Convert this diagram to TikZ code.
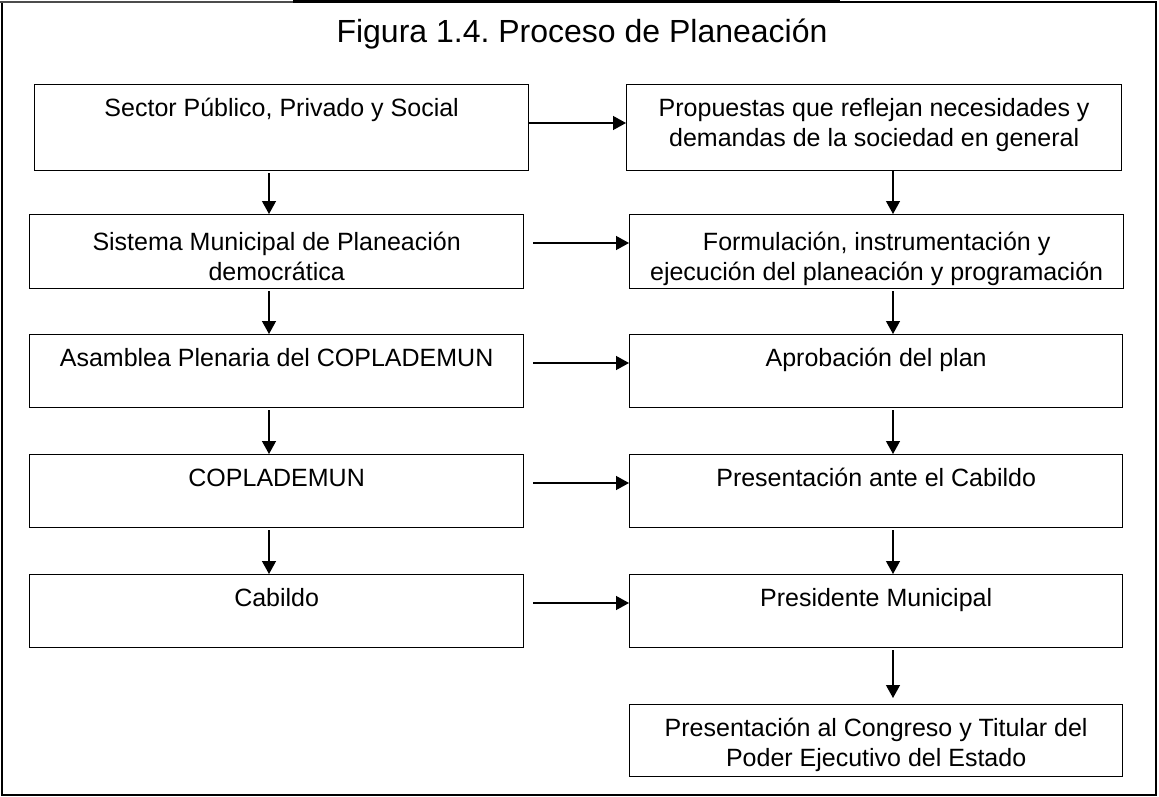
\documentclass[tikz,border=0pt]{standalone}
\usepackage{fontspec}
\setmainfont{Liberation Sans}
\usetikzlibrary{arrows.meta}
\begin{document}
\frenchspacing
\begin{tikzpicture}[x=1pt,y=-1pt,
  box/.style={draw, line width=1.3pt, rectangle, inner sep=0pt, anchor=north west},
  txt/.style={font=\fontsize{25}{30}\selectfont, align=center, anchor=north, inner sep=0pt},
  ttl/.style={font=\fontsize{32}{38}\selectfont, anchor=base, inner sep=0pt},
  arr/.style={line width=1.3pt, -{Triangle[length=13pt,width=14pt]}},
  frameline/.style={line width=2.5pt},
]
\useasboundingbox (0,0) rectangle (1159,797);
% outer frame
\coordinate (f1) at (2,2);
\coordinate (f2) at (2,795);
\coordinate (f3) at (1156,795);
\coordinate (f4) at (1156,2);
\coordinate (fa) at (293,2);
\coordinate (fb) at (840,2);
\draw[frameline, line join=miter] (f1) -- (f2) -- (f3) -- (f4);
\draw[line width=1.4pt, black!70] ([xshift=-2pt]f1) -- (fa);
\draw[line width=3pt] (fa) -- (fb);
\draw[line width=2pt] (fb) -- ([xshift=1.2pt]f4);

\node[ttl] (title) at (582,43) {Figura 1.4. Proceso de Planeación};

% left column
\node[box, minimum width=494pt, minimum height=86pt] (l1) at (34,84) {};
\node[box, minimum width=494pt, minimum height=74pt] (l2) at (29,214) {};
\node[box, minimum width=494pt, minimum height=73pt] (l3) at (29,334) {};
\node[box, minimum width=494pt, minimum height=73pt] (l4) at (29,454) {};
\node[box, minimum width=494pt, minimum height=73pt] (l5) at (29,574) {};
% right column
\node[box, minimum width=495pt, minimum height=86pt] (r1) at (626,84) {};
\node[box, minimum width=494pt, minimum height=74pt] (r2) at (629,214) {};
\node[box, minimum width=493pt, minimum height=73pt] (r3) at (629,334) {};
\node[box, minimum width=493pt, minimum height=73pt] (r4) at (629,454) {};
\node[box, minimum width=493pt, minimum height=73pt] (r5) at (629,574) {};
\node[box, minimum width=493pt, minimum height=72pt] (r6) at (629,704) {};

% texts
\node[txt] (l1t) at ([yshift=-11pt]l1.north) {\strut Sector Público, Privado y Social};
\node[txt] (l2t) at ([yshift=-15pt]l2.north) {\strut Sistema Municipal de Planeación\\\strut democrática};
\node[txt] (l3t) at ([yshift=-11pt]l3.north) {\strut Asamblea Plenaria del COPLADEMUN};
\node[txt] (l4t) at ([yshift=-11pt]l4.north) {\strut COPLADEMUN};
\node[txt] (l5t) at ([yshift=-11pt]l5.north) {\strut Cabildo};
\node[txt] (r1t) at ([yshift=-11pt]r1.north) {\strut Propuestas que reflejan necesidades y\\\strut demandas de la sociedad en general};
\node[txt] (r2t) at ([yshift=-15pt]r2.north) {\strut Formulación, instrumentación y\\\strut ejecución del planeación y programación};
\node[txt] (r3t) at ([yshift=-11pt]r3.north) {\strut Aprobación del plan};
\node[txt] (r4t) at ([yshift=-11pt]r4.north) {\strut Presentación ante el Cabildo};
\node[txt] (r5t) at ([yshift=-11pt]r5.north) {\strut Presidente Municipal};
\node[txt] (r6t) at ([yshift=-11pt]r6.north) {\strut Presentación al Congreso y Titular del\\\strut Poder Ejecutivo del Estado};

% connector guides
\coordinate (cl) at (269,0);
\coordinate (cr) at (893,0);
\coordinate (h1) at (0,123);
\coordinate (h2) at (0,243);
\coordinate (h3) at (0,363);
\coordinate (h4) at (0,483);
\coordinate (h5) at (0,603);

% vertical arrows
\draw[arr, shorten <=2pt] (l1.south -| cl) -- (l2.north -| cl);
\draw[arr, shorten <=2pt] (l2.south -| cl) -- (l3.north -| cl);
\draw[arr, shorten <=2pt] (l3.south -| cl) -- (l4.north -| cl);
\draw[arr, shorten <=2pt] (l4.south -| cl) -- (l5.north -| cl);
\draw[arr] (r1.south -| cr) -- (r2.north -| cr);
\draw[arr, shorten <=2pt] (r2.south -| cr) -- (r3.north -| cr);
\draw[arr, shorten <=2pt] (r3.south -| cr) -- (r4.north -| cr);
\draw[arr, shorten <=2pt] (r4.south -| cr) -- (r5.north -| cr);
\draw[arr, shorten <=2pt, shorten >=6pt] (r5.south -| cr) -- (r6.north -| cr);

% horizontal arrows
\draw[arr] (l1.east |- h1) -- (r1.west |- h1);
\draw[arr, shorten <=9pt] (l2.east |- h2) -- (r2.west |- h2);
\draw[arr, shorten <=9pt] (l3.east |- h3) -- (r3.west |- h3);
\draw[arr, shorten <=9pt] (l4.east |- h4) -- (r4.west |- h4);
\draw[arr, shorten <=9pt] (l5.east |- h5) -- (r5.west |- h5);
\end{tikzpicture}
\end{document}
